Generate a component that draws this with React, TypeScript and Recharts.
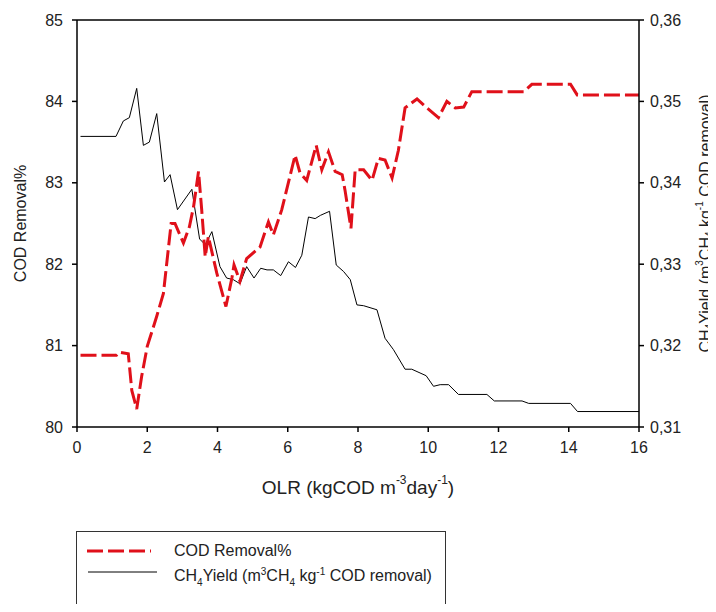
import React from 'react';
import { LineChart, Line, XAxis, YAxis, Legend, ReferenceLine } from 'recharts';

// ---- data ----
const codOLR = [0.1, 1.12, 1.2, 1.46, 1.56, 1.7, 1.84, 2.0, 2.27, 2.46, 2.68, 2.79, 3.03, 3.2, 3.32, 3.46, 3.55, 3.65, 3.74, 3.98, 4.24, 4.41, 4.47, 4.64, 4.83, 5.21, 5.45, 5.59, 5.83, 6.21, 6.35, 6.54, 6.81, 6.97, 7.16, 7.35, 7.55, 7.63, 7.8, 7.92, 8.16, 8.4, 8.58, 8.77, 8.97, 9.15, 9.34, 9.68, 9.96, 10.29, 10.53, 10.77, 11.01, 11.24, 12.72, 12.95, 14.05, 14.24, 16];
const codRemoval = [80.88, 80.88, 80.92, 80.9, 80.45, 80.22, 80.62, 80.99, 81.36, 81.64, 82.5, 82.5, 82.26, 82.46, 82.71, 83.14, 82.67, 82.09, 82.34, 81.89, 81.48, 81.83, 81.99, 81.79, 82.07, 82.21, 82.52, 82.36, 82.67, 83.34, 83.12, 83.03, 83.46, 83.16, 83.38, 83.14, 83.1, 82.91, 82.44, 83.16, 83.16, 83.03, 83.3, 83.28, 83.06, 83.4, 83.92, 84.03, 83.92, 83.8, 84.0, 83.92, 83.93, 84.12, 84.12, 84.21, 84.21, 84.08, 84.08];

const ch4OLR = [0.1, 1.11, 1.32, 1.49, 1.7, 1.89, 2.06, 2.27, 2.49, 2.65, 2.86, 3.27, 3.49, 3.65, 3.84, 4.07, 4.26, 4.45, 4.64, 4.83, 5.04, 5.23, 5.41, 5.59, 5.8, 6.02, 6.22, 6.4, 6.59, 6.78, 6.93, 7.19, 7.38, 7.59, 7.78, 7.97, 8.16, 8.54, 8.77, 9.01, 9.34, 9.53, 9.94, 10.15, 10.34, 10.58, 10.86, 11.67, 11.88, 12.67, 12.86, 14.05, 14.25, 16];
const ch4Yield = [0.3457, 0.3457, 0.3476, 0.348, 0.3516, 0.3446, 0.345, 0.3485, 0.3401, 0.341, 0.3367, 0.3392, 0.3331, 0.3324, 0.334, 0.3297, 0.3283, 0.3281, 0.3276, 0.3297, 0.3283, 0.3295, 0.3293, 0.3293, 0.3286, 0.3303, 0.3296, 0.3311, 0.3358, 0.3356, 0.336, 0.3365, 0.3299, 0.3291, 0.3281, 0.325, 0.3249, 0.3244, 0.3209, 0.3195, 0.3171, 0.3171, 0.3163, 0.315, 0.3152, 0.3152, 0.314, 0.314, 0.3132, 0.3132, 0.3129, 0.3129, 0.3119, 0.3119];

const xTicks = [0, 2, 4, 6, 8, 10, 12, 14, 16];
const leftTicks = [80, 81, 82, 83, 84, 85];
const rightTicks = [0.31, 0.32, 0.33, 0.34, 0.35, 0.36];

const codName = 'COD Removal%';

const codData = codOLR.map((x, i) => ({ x, y: codRemoval[i] }));
const ch4Data = ch4OLR.map((x, i) => ({ x, y: ch4Yield[i] }));

// ---- styles ----
const FONT = '"Liberation Sans", Arial, sans-serif';
const TEXT = '#222';
const RED = '#e0101a';
const tickStyle = { fontFamily: FONT, fontSize: 16, fill: TEXT };
const axisLine = { stroke: '#000', strokeWidth: 1.5 };
const tickLine = { stroke: '#000', strokeWidth: 1.5 };

const LeftLabel = (props: any) => {
  const vb = props.viewBox || { x: 9, y: 12, width: 60, height: 407 };
  const cx = vb.x + 3;
  const cy = vb.y + vb.height / 2;
  return (
    <text x={cx} y={cy} transform={`rotate(-90 ${cx} ${cy})`} textAnchor="middle" dominantBaseline="central"
      style={{ fontFamily: FONT, fontSize: 16, fill: TEXT }}>
      {codName}
    </text>
  );
};

const RightLabel = (props: any) => {
  const vb = props.viewBox || { x: 631, y: 12, width: 70, height: 407 };
  const cx = vb.x + 66;
  const cy = vb.y + vb.height / 2;
  return (
    <text x={cx} y={cy} transform={`rotate(-90 ${cx} ${cy})`} textAnchor="middle" dominantBaseline="central"
      style={{ fontFamily: FONT, fontSize: 16, fill: TEXT }}>
      <tspan>CH</tspan>
      <tspan dy={4} fontSize={10}>4</tspan>
      <tspan dy={-4}>Yield (m</tspan>
      <tspan dy={-6} fontSize={10}>3</tspan>
      <tspan dy={6}>CH</tspan>
      <tspan dy={4} fontSize={10}>4</tspan>
      <tspan dy={-4}> kg</tspan>
      <tspan dy={-6} fontSize={10}>-1</tspan>
      <tspan dy={6}> COD removal)</tspan>
    </text>
  );
};

const BottomLabel = (props: any) => {
  const vb = props.viewBox || { x: 69, y: 419, width: 562, height: 70 };
  const cx = vb.x + vb.width / 2;
  const cy = vb.y + 60;
  return (
    <text x={cx} y={cy} textAnchor="middle" dominantBaseline="central"
      style={{ fontFamily: FONT, fontSize: 19, fill: TEXT }}>
      <tspan>OLR (kgCOD m</tspan>
      <tspan dy={-7} fontSize={12}>-3</tspan>
      <tspan dy={7}>day</tspan>
      <tspan dy={-7} fontSize={12}>-1</tspan>
      <tspan dy={7}>)</tspan>
    </text>
  );
};

const renderLegend = () => (
  <div style={{
    position: 'relative', width: 370, height: 73, boxSizing: 'border-box',
    border: '1.5px solid #333', borderBottom: 'none', background: '#fff',
    fontFamily: FONT, fontSize: 16, color: TEXT,
  }}>
    <svg width={370} height={73} style={{ position: 'absolute', left: -1.5, top: -1.5 }}>
      <line x1={11} x2={75} y1={20} y2={20} stroke={RED} strokeWidth={3} strokeDasharray="16 5" />
      <line x1={12} x2={81} y1={41} y2={41} stroke="#000" strokeWidth={1} />
    </svg>
    <div style={{ position: 'absolute', left: 97, top: 9, whiteSpace: 'nowrap', lineHeight: '20px' }}>{codName}</div>
    <div style={{ position: 'absolute', left: 97, top: 30, whiteSpace: 'nowrap', lineHeight: '20px' }}>
      CH<sub style={{ fontSize: 10 }}>4</sub>Yield (m<sup style={{ fontSize: 10 }}>3</sup>CH<sub style={{ fontSize: 10 }}>4</sub> kg<sup style={{ fontSize: 10 }}>-1</sup> COD removal)
    </div>
  </div>
);

const fmtComma = (v: number) => v.toFixed(2).replace('.', ',');

export default function App() {
  return (
    <div style={{ width: 708, height: 596, position: 'relative', background: '#fff' }}>
      <LineChart width={708} height={596} margin={{ top: 12, right: 7, left: 9, bottom: 107 }}>
        <XAxis
          dataKey="x"
          type="number"
          domain={[0, 16]}
          ticks={xTicks}
          height={70}
          tickSize={5}
          tickMargin={10}
          tick={tickStyle}
          axisLine={axisLine}
          tickLine={tickLine}
          allowDataOverflow
          label={<BottomLabel />}
        />
        <YAxis
          yAxisId="left"
          orientation="left"
          type="number"
          domain={[80, 85]}
          ticks={leftTicks}
          width={60}
          tickSize={5}
          tickMargin={9}
          tick={tickStyle}
          axisLine={axisLine}
          tickLine={tickLine}
          allowDataOverflow
          label={<LeftLabel />}
        />
        <YAxis
          yAxisId="right"
          orientation="right"
          type="number"
          domain={[0.31, 0.36]}
          ticks={rightTicks}
          width={70}
          tickSize={5}
          tickMargin={6}
          tick={tickStyle}
          tickFormatter={fmtComma}
          axisLine={axisLine}
          tickLine={tickLine}
          allowDataOverflow
          label={<RightLabel />}
        />
        <ReferenceLine yAxisId="left" y={85} stroke="#000" strokeWidth={1.5} />
        <Line
          yAxisId="right"
          data={ch4Data}
          dataKey="y"
          name="CH4Yield"
          type="linear"
          stroke="#000"
          strokeWidth={1}
          dot={false}
          activeDot={false}
          isAnimationActive={false}
        />
        <Line
          yAxisId="left"
          data={codData}
          dataKey="y"
          name={codName}
          type="linear"
          stroke={RED}
          strokeWidth={3}
          strokeDasharray="16 5"
          dot={false}
          activeDot={false}
          isAnimationActive={false}
        />
        <Legend
          layout="horizontal"
          verticalAlign="middle"
          align="center"
          content={renderLegend}
          wrapperStyle={{ left: 68, top: 523, width: 370, height: 73 }}
        />
      </LineChart>
    </div>
  );
}
